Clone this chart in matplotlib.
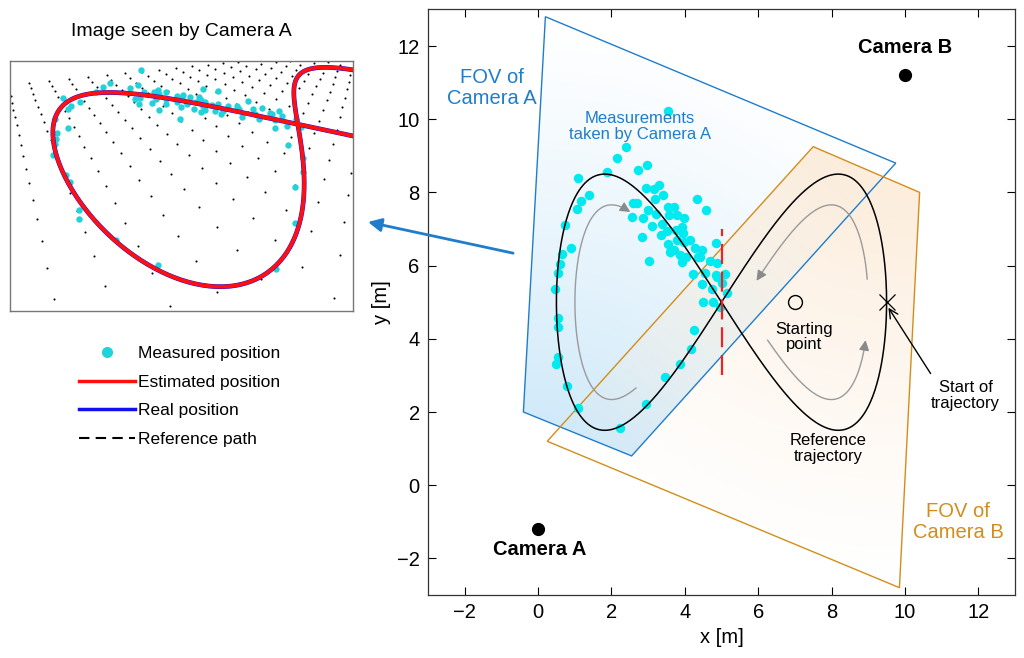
import numpy as np
import matplotlib
matplotlib.use("Agg")
import matplotlib.pyplot as plt
from matplotlib.patches import Polygon
from matplotlib.lines import Line2D

plt.rcParams['font.family'] = ['Liberation Sans', 'DejaVu Sans']

# --- data (metres) ---
cam_a = (0.0, -1.2)
cam_b = (10.0, 11.2)
fov_a = [(0.2, 12.8), (9.75, 8.8), (2.55, 0.8), (-0.4, 2.0)]   # TL, TR, BR, BL seen from camera A
fov_b = [(7.5, 9.25), (10.4, 8.0), (9.85, -2.8), (0.25, 1.2)]
start_point = (7.0, 5.0)
traj_start = (9.5, 5.0)
split_x = 5.0
split_y = (3.0, 7.0)

# floor markers seen in the camera image (0.5 m grid)
floor_x = np.arange(0, 10.01, 0.5)
floor_y = np.arange(0, 10.01, 0.5)

# reference trajectory: figure eight, centre / half widths
ref_cx, ref_cy = 5.0, 5.0
ref_ax, ref_ay = 4.5, 3.5

meas_x = [3.55, 2.40, 2.14, 2.73, 2.98, 1.89, 1.10, 1.40, 1.16, 1.07, 0.74, 0.89, 0.65, 0.60,
          0.55, 2.94, 3.16, 3.31, 3.40, 3.19, 2.58, 2.71, 2.55, 2.85, 3.01, 3.10, 2.83, 3.34,
          3.22, 3.37, 3.55, 3.71, 3.58, 3.78, 3.98, 3.52, 3.76, 3.94, 3.55, 3.71, 3.78, 3.98,
          4.14, 3.87, 4.03, 4.28, 4.46, 4.37, 4.34, 4.58, 4.85, 3.02, 4.69, 4.23, 4.85, 5.10,
          3.92, 0.46, 0.53, 0.55, 0.53, 0.49, 0.80, 1.10, 2.23, 2.93, 3.46, 3.87, 4.16, 4.26,
          3.60, 3.92, 4.46, 4.55, 4.87, 4.87, 4.73, 5.01, 5.14, 4.50, 4.76, 4.96, 4.41]
meas_y = [10.22, 9.24, 8.95, 8.61, 8.74, 8.55, 8.40, 7.94, 7.77, 7.56, 7.10, 6.47, 6.31, 6.04,
          5.80, 8.11, 8.08, 8.20, 7.92, 7.83, 7.71, 7.70, 7.33, 7.31, 7.51, 7.08, 6.78, 6.83,
          7.42, 7.13, 7.59, 7.60, 7.38, 7.38, 7.31, 6.95, 6.97, 6.88, 6.60, 6.42, 6.69, 6.65,
          6.69, 6.28, 6.24, 6.47, 6.42, 6.24, 7.83, 7.51, 6.62, 6.12, 6.13, 5.78, 5.74, 5.78,
          7.06, 5.36, 4.57, 4.31, 3.51, 3.30, 2.70, 2.10, 1.57, 2.21, 2.96, 3.31, 3.71, 4.25,
          6.37, 6.10, 5.51, 5.80, 6.06, 5.69, 5.35, 5.53, 5.25, 5.01, 5.01, 4.86, 6.24]

# gray direction arcs: (curve parameter range, centre of shrink)
arcs = [((2.11, 4.12), (2.6, 5.0)),
        ((-1.37, -0.20), (7.4, 5.0)),
        ((0.12, 1.46), (7.4, 5.0))]
arc_scale = 0.76

BLUE = '#1f7dcc'
ORANGE = '#d38d1c'
CYAN = '#00eaf0'
CYAN_IMG = '#22d2d8'


def ref_path(t):
    return ref_cx + ref_ax * np.cos(t), ref_cy + ref_ay * np.sin(2 * t)


def homography(src, dst):
    rows = []
    for (x, y), (u, v) in zip(src, dst):
        rows.append([x, y, 1, 0, 0, 0, -u * x, -u * y, -u])
        rows.append([0, 0, 0, x, y, 1, -v * x, -v * y, -v])
    _, _, vt = np.linalg.svd(np.array(rows, float))
    return vt[-1].reshape(3, 3)


def project(H, x, y):
    p = H @ np.vstack([np.ravel(x), np.ravel(y), np.ones(np.size(x))])
    return p[0] / p[2], p[1] / p[2]


fig = plt.figure(figsize=(10.24, 6.58), dpi=100)

# ---------------- main top view ----------------
ax = fig.add_axes([428 / 1024, 1 - 595 / 658, 587 / 1024, 585.6 / 658])
ax.set_xlim(-3, 13)
ax.set_ylim(-3, 13)

# shaded fields of view, fading with distance to each camera
gx, gy = np.meshgrid(np.linspace(-3, 13, 500), np.linspace(-3, 13, 500))
shades = [(fov_a, cam_a, (0.82, 0.92, 0.98), 1.0, 1),
          (fov_b, cam_b, (0.99, 0.92, 0.84), 0.85, 2)]
for poly, cam, col, amax, z in shades:
    d = np.hypot(gx - cam[0], gy - cam[1])
    alpha = amax * np.clip((14.0 - d) / 11.0, 0, 1) ** 1.2
    img = np.zeros(gx.shape + (4,))
    img[..., 0], img[..., 1], img[..., 2] = col
    img[..., 3] = alpha
    im = ax.imshow(img, extent=(-3, 13, -3, 13), origin='lower', zorder=z, aspect='auto')
    patch = Polygon(poly, closed=True, facecolor='none', edgecolor='none', transform=ax.transData)
    ax.add_patch(patch)
    im.set_clip_path(patch)

ax.add_patch(Polygon(fov_a, closed=True, fill=False, edgecolor=BLUE, lw=1.0, zorder=3))
ax.add_patch(Polygon(fov_b, closed=True, fill=False, edgecolor=ORANGE, lw=1.0, zorder=3))

ax.plot(meas_x, meas_y, 'o', color=CYAN, ms=6.8, mec='none', zorder=4)

t = np.linspace(0, 2 * np.pi, 600)
rx, ry = ref_path(t)
ax.plot(rx, ry, color='black', lw=1.1, zorder=5)

for (t0, t1), (px, py) in arcs:
    ta = np.linspace(t0, t1, 200)
    cx_, cy_ = ref_path(ta)
    cx_ = px + arc_scale * (cx_ - px)
    cy_ = py + arc_scale * (cy_ - py)
    ax.plot(cx_[:-3], cy_[:-3], color='#9a9a9a', lw=1.0, zorder=5)
    ax.annotate('', xy=(cx_[-1], cy_[-1]), xytext=(cx_[-6], cy_[-6]),
                arrowprops=dict(arrowstyle='-|>', color='#8a8a8a', lw=1.0, mutation_scale=15,
                                shrinkA=0, shrinkB=0), zorder=5)

ax.plot([split_x, split_x], split_y, color='#ee2222', lw=1.6, dashes=(9, 3.5), zorder=6)

ax.plot(*start_point, 'o', ms=10, mfc='none', mec='black', mew=1.0, zorder=6)
ax.plot(*traj_start, 'x', ms=11, color='black', mew=0.9, zorder=6)
ax.plot(*cam_a, 'o', ms=8.5, color='black', zorder=6)
ax.plot(*cam_b, 'o', ms=8.5, color='black', zorder=6)

ax.text(cam_b[0], cam_b[1] + 0.75, 'Camera B', fontsize=14.5, fontweight='bold', ha='center', va='center', zorder=7)
ax.text(cam_a[0] + 0.05, cam_a[1] - 0.55, 'Camera A', fontsize=14.5, fontweight='bold', ha='center', va='center', zorder=7)
ax.text(-1.25, 10.85, 'FOV of\nCamera A', color=BLUE, fontsize=14.5, ha='center', va='center', linespacing=1.1, zorder=7)
ax.text(11.45, -1.0, 'FOV of\nCamera B', color=ORANGE, fontsize=14.5, ha='center', va='center', linespacing=1.1, zorder=7)
ax.text(2.78, 9.8, 'Measurements\ntaken by Camera A', color=BLUE, fontsize=12, ha='center', va='center', linespacing=1.05, zorder=7)
ax.text(7.25, 4.05, 'Starting\npoint', fontsize=12, ha='center', va='center', linespacing=1.05, zorder=7)
ax.text(7.9, 1.0, 'Reference\ntrajectory', fontsize=12, ha='center', va='center', linespacing=1.05, zorder=7)
ax.text(11.65, 2.45, 'Start of\ntrajectory', fontsize=12, ha='center', va='center', linespacing=1.05, zorder=7)
ax.annotate('', xy=(9.55, 4.85), xytext=(10.7, 3.05),
            arrowprops=dict(arrowstyle='->', color='black', lw=1.0, mutation_scale=16, shrinkA=0, shrinkB=0), zorder=7)

ax.set_xticks(range(-2, 13, 2))
ax.set_yticks(range(-2, 13, 2))
ax.tick_params(direction='in', top=True, right=True, length=6, width=0.8, labelsize=14.5, pad=6)
for s in ax.spines.values():
    s.set_linewidth(0.9)
    s.set_color('#333333')
ax.set_xlabel('x [m]', fontsize=14.5, labelpad=4)
ax.set_ylabel('y [m]', fontsize=14.5, labelpad=4)

# arrow pointing to the camera image
ax.annotate('', xy=(368 / 1024, 1 - 222 / 658), xycoords='figure fraction', xytext=(-0.68, 6.34),
            textcoords='data', annotation_clip=False,
            arrowprops=dict(arrowstyle='-|>', color=BLUE, lw=2.0, mutation_scale=20, shrinkA=0, shrinkB=0))

# ---------------- image seen by camera A ----------------
ax_in = fig.add_axes([10 / 1024, 1 - 310.7 / 658, 342.7 / 1024, 250 / 658])
H = homography(fov_a, [(0, 0), (1, 0), (1, 1), (0, 1)])

wx, wy = np.meshgrid(floor_x, floor_y)
u, v = project(H, wx, wy)
keep = (u > 0) & (u < 1) & (v > 0) & (v < 1)
ax_in.plot(u[keep], v[keep], 'o', color='black', ms=1.5, mec='none')

u, v = project(H, meas_x, meas_y)
ax_in.plot(u, v, 'o', color=CYAN_IMG, ms=4.6, mec='none', zorder=2)

u, v = project(H, rx, ry)
ax_in.plot(u, v, color='#1010ee', lw=3.4, zorder=3)
ax_in.plot(u, v, color='black', lw=1.5, dashes=(5, 3), zorder=3)
ax_in.plot(u, v, color='#ff1010', lw=2.8, zorder=4)

ax_in.set_xlim(0, 1)
ax_in.set_ylim(1, 0)
ax_in.set_xticks([])
ax_in.set_yticks([])
for s in ax_in.spines.values():
    s.set_color('#777777')
    s.set_linewidth(1.0)
ax_in.set_title('Image seen by Camera A', fontsize=14, pad=18)

handles = [Line2D([], [], ls='none', marker='o', color=CYAN_IMG, ms=8, mec='none'),
           Line2D([], [], color='#ff1010', lw=2.5),
           Line2D([], [], color='#1010ee', lw=2.5),
           Line2D([], [], color='black', lw=1.5, dashes=(5, 3))]
labels = ['Measured position', 'Estimated position', 'Real position', 'Reference path']
fig.legend(handles, labels, loc='upper left', bbox_to_anchor=(79 / 1024, 1 - 346 / 658), frameon=False,
           fontsize=12.5, handlelength=3.2, handletextpad=0.2, labelspacing=0.77,
           borderpad=0, borderaxespad=0)

fig.savefig('out.png', dpi=100)
